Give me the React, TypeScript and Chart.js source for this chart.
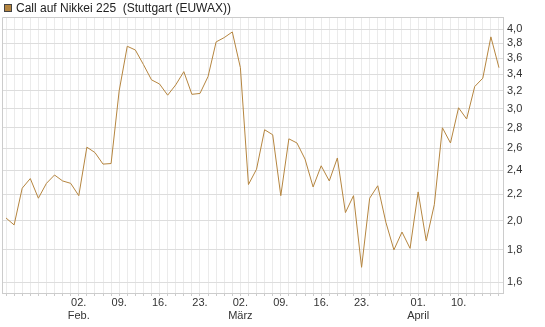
import { useEffect, useRef } from "react";
import { Chart, registerables } from "chart.js";

Chart.register(...registerables);

const seriesLabel = "Call auf Nikkei 225  (Stuttgart (EUWAX))";

const dates = [
  "2026-01-20", "2026-01-21", "2026-01-22", "2026-01-23", "2026-01-26", "2026-01-27", "2026-01-28", "2026-01-29", "2026-01-30",
  "2026-02-02", "2026-02-03", "2026-02-04", "2026-02-05", "2026-02-06", "2026-02-09", "2026-02-10", "2026-02-11", "2026-02-12", "2026-02-13",
  "2026-02-16", "2026-02-17", "2026-02-18", "2026-02-19", "2026-02-20", "2026-02-23", "2026-02-24", "2026-02-25", "2026-02-26", "2026-02-27",
  "2026-03-02", "2026-03-03", "2026-03-04", "2026-03-05", "2026-03-06", "2026-03-09", "2026-03-10", "2026-03-11", "2026-03-12", "2026-03-13",
  "2026-03-16", "2026-03-17", "2026-03-18", "2026-03-19", "2026-03-20", "2026-03-23", "2026-03-24", "2026-03-25", "2026-03-26", "2026-03-27",
  "2026-03-30", "2026-03-31", "2026-04-01", "2026-04-02", "2026-04-07", "2026-04-08", "2026-04-09", "2026-04-10", "2026-04-13", "2026-04-14",
  "2026-04-15", "2026-04-16", "2026-04-17",
];

const values = [
  2.02, 1.97, 2.25, 2.33, 2.17, 2.29, 2.36, 2.31, 2.29,
  2.19, 2.61, 2.56, 2.455, 2.46, 3.2, 3.76, 3.71, 3.52, 3.33,
  3.28, 3.15, 3.27, 3.43, 3.16, 3.17, 3.37, 3.82, 3.88, 3.96,
  3.48, 2.28, 2.41, 2.78, 2.73, 2.19, 2.69, 2.65, 2.5, 2.26,
  2.44, 2.31, 2.51, 2.06, 2.19, 1.69, 2.17, 2.27, 1.99, 1.8,
  1.92, 1.81, 2.22, 1.86, 2.12, 2.8, 2.65, 3.01, 2.89, 3.25,
  3.35, 3.89, 3.48,
];

const tickDates = [
  "2026-02-02", "2026-02-09", "2026-02-16", "2026-02-23", "2026-03-02",
  "2026-03-09", "2026-03-16", "2026-03-23", "2026-04-01", "2026-04-10",
];
const tickTexts = [
  ["02.", "Feb."], ["09."], ["16."], ["23."], ["02.", "März"],
  ["09."], ["16."], ["23."], ["01.", "April"], ["10."],
];

const yTicks = [1.6, 1.8, 2.0, 2.2, 2.4, 2.6, 2.8, 3.0, 3.2, 3.4, 3.6, 3.8, 4.0];
const yMin = 1.54;
const yMax = 4.18;

const FONT = "'Liberation Sans', Arial, sans-serif";
const LINE_COLOR = "#b5853f";

const framePlugin = {
  id: "frame",
  afterDraw(chart: any) {
    const { ctx, chartArea } = chart;
    ctx.save();
    ctx.strokeStyle = "#cccccc";
    ctx.lineWidth = 1;
    ctx.beginPath();
    ctx.moveTo(Math.round(chartArea.left) + 0.5, Math.round(chartArea.bottom));
    ctx.lineTo(Math.round(chartArea.left) + 0.5, Math.round(chartArea.top) + 0.5);
    ctx.lineTo(Math.round(chartArea.right), Math.round(chartArea.top) + 0.5);
    ctx.stroke();
    // legend
    ctx.fillStyle = LINE_COLOR;
    ctx.fillRect(4, 4, 8, 8);
    ctx.strokeStyle = "#444444";
    ctx.strokeRect(4.5, 4.5, 7, 7);
    ctx.fillStyle = "#222222";
    ctx.font = "12px " + FONT;
    ctx.textBaseline = "middle";
    ctx.textAlign = "left";
    ctx.fillText(seriesLabel, 16, 8.5);
    ctx.restore();
  },
};

export default function App() {
  const ref = useRef<HTMLCanvasElement | null>(null);

  useEffect(() => {
    document.body.style.margin = "0";
    const canvas = ref.current;
    if (!canvas) return;
    const chart = new Chart(canvas, {
      type: "line",
      data: {
        labels: dates,
        datasets: [
          {
            label: seriesLabel,
            data: values,
            borderColor: LINE_COLOR,
            borderWidth: 1,
            pointRadius: 0,
            fill: false,
            tension: 0,
          },
        ],
      },
      options: {
        animation: false,
        responsive: false,
        maintainAspectRatio: false,
        layout: { padding: { top: 17, left: 2, right: 0, bottom: 0 } },
        plugins: {
          legend: { display: false },
          tooltip: { enabled: false },
        },
        scales: {
          x: {
            type: "category",
            offset: true,
            grid: {
              offset: false,
              color: "#ebebeb",
              tickColor: "#cccccc",
              tickLength: 3,
              drawTicks: true,
            },
            border: { color: "#cccccc" },
            ticks: {
              autoSkip: false,
              maxRotation: 0,
              minRotation: 0,
              padding: 0,
              color: "#333333",
              font: { size: 11, family: FONT },
              callback: function (this: any, val: any) {
                const d = this.getLabelForValue(val);
                const i = tickDates.indexOf(d);
                return i >= 0 ? tickTexts[i] : "";
              },
            },
            afterFit: (scale: any) => {
              scale.height = 34;
            },
          },
          y: {
            type: "logarithmic",
            position: "right",
            min: yMin,
            max: yMax,
            afterBuildTicks: (scale: any) => {
              scale.ticks = yTicks.map((v) => ({ value: v }));
            },
            grid: { color: "#dddddd", drawTicks: false },
            border: { color: "#cccccc" },
            ticks: {
              padding: 4,
              color: "#333333",
              font: { size: 11, family: FONT },
              callback: (v: any) => Number(v).toFixed(1).replace(".", ","),
            },
            afterFit: (scale: any) => {
              scale.width = 42;
            },
          },
        },
      },
      plugins: [framePlugin],
    });
    return () => chart.destroy();
  }, []);

  return (
    <div style={{ width: 545, height: 327 }}>
      <canvas ref={ref} width={545} height={327} style={{ display: "block" }} />
    </div>
  );
}
